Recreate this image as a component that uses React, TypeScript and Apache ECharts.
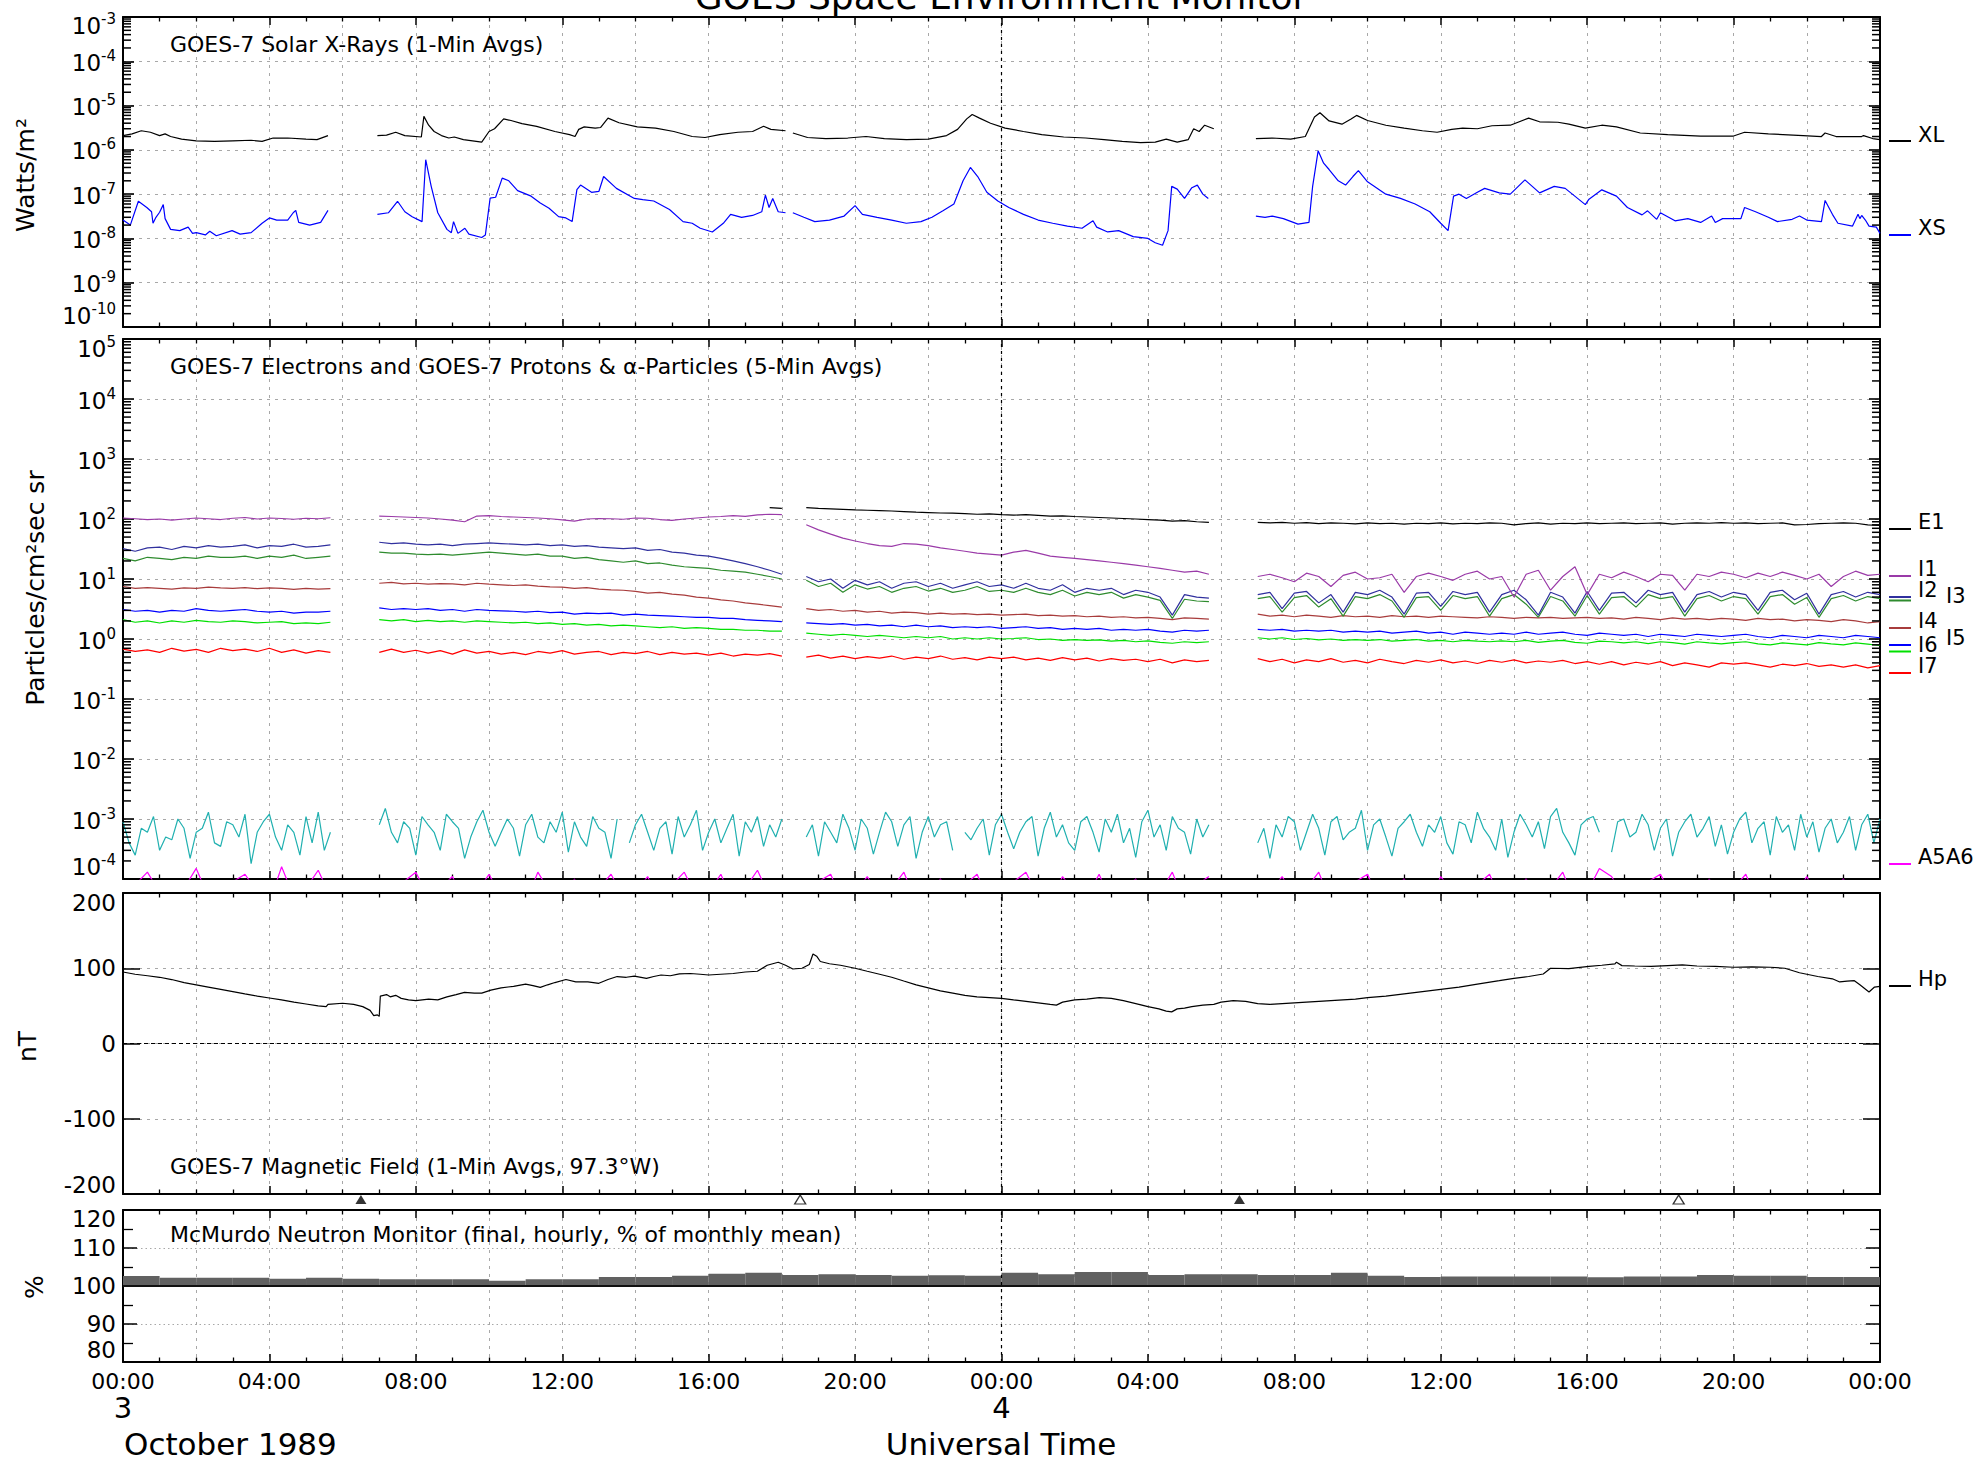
import React, { useEffect, useRef } from 'react';
import * as echarts from 'echarts';

const FONT = 'DejaVu Sans';

// ---------------- X-rays (hour, W/m^2) ----------------
const XL: [number, number | null][] = [
  [0, 2.1e-6], [0.25, 2.3e-6], [0.5, 2.7e-6], [0.75, 2.5e-6], [1.0, 2.1e-6], [1.15, 2.3e-6], [1.3, 2.0e-6], [1.6, 1.75e-6],
  [2.0, 1.6e-6], [2.5, 1.55e-6], [3.0, 1.6e-6], [3.5, 1.65e-6], [3.8, 1.55e-6], [4.1, 1.85e-6], [4.5, 1.85e-6], [5.0, 1.75e-6],
  [5.3, 1.7e-6], [5.6, 2.1e-6], [5.9, null],
  [6.95, 2.1e-6], [7.2, 2.15e-6], [7.45, 2.5e-6], [7.7, 2.1e-6], [8.15, 1.95e-6], [8.22, 5.7e-6], [8.35, 3.6e-6], [8.5, 2.6e-6],
  [8.7, 2.1e-6], [8.9, 1.85e-6], [9.05, 1.95e-6], [9.3, 1.7e-6], [9.8, 1.5e-6], [10.0, 2.6e-6], [10.15, 3.0e-6], [10.4, 5.0e-6],
  [10.6, 4.6e-6], [10.9, 3.9e-6], [11.3, 3.4e-6], [11.8, 2.6e-6], [12.2, 2.2e-6], [12.35, 2.0e-6], [12.45, 2.9e-6], [12.6, 3.3e-6],
  [12.9, 3.1e-6], [13.05, 3.2e-6], [13.25, 5.2e-6], [13.55, 4.1e-6], [14.05, 3.3e-6], [14.55, 3.1e-6], [15.05, 2.6e-6], [15.55, 2.0e-6],
  [15.9, 1.9e-6], [16.3, 2.2e-6], [16.8, 2.5e-6], [17.2, 2.6e-6], [17.5, 3.4e-6], [17.7, 2.9e-6], [18.1, 2.7e-6], [18.2, null],
  [18.3, 2.4e-6], [18.7, 1.9e-6], [19.2, 1.8e-6], [19.8, 1.85e-6], [20.3, 2.0e-6], [20.8, 1.8e-6], [21.4, 1.7e-6], [22.0, 1.75e-6],
  [22.5, 2.1e-6], [22.8, 2.9e-6], [23.05, 5.0e-6], [23.2, 6.3e-6], [23.4, 5.2e-6], [23.7, 4.0e-6], [24.1, 3.1e-6], [24.6, 2.6e-6],
  [25.1, 2.2e-6], [25.7, 1.95e-6], [26.3, 1.85e-6], [26.8, 1.7e-6], [27.3, 1.55e-6], [27.8, 1.45e-6], [28.2, 1.5e-6], [28.5, 1.75e-6],
  [28.8, 1.5e-6], [29.1, 1.7e-6], [29.25, 3.0e-6], [29.4, 2.6e-6], [29.55, 3.6e-6], [29.8, 3.0e-6], [30.3, null],
  [30.95, 1.8e-6], [31.4, 1.85e-6], [31.9, 1.75e-6], [32.3, 2.0e-6], [32.55, 5.5e-6], [32.7, 6.9e-6], [32.95, 4.5e-6], [33.3, 3.8e-6],
  [33.55, 5.0e-6], [33.7, 6.0e-6], [34.0, 4.6e-6], [34.5, 3.6e-6], [35.0, 3.1e-6], [35.5, 2.7e-6], [35.9, 2.5e-6], [36.3, 2.9e-6],
  [36.6, 3.1e-6], [37.0, 3.0e-6], [37.4, 3.5e-6], [37.9, 3.6e-6], [38.4, 5.2e-6], [38.7, 4.3e-6], [39.2, 4.2e-6], [39.5, 3.8e-6],
  [39.95, 3.1e-6], [40.4, 3.6e-6], [40.8, 3.3e-6], [41.45, 2.4e-6], [42.2, 2.2e-6], [43.1, 2.05e-6], [44.0, 2.05e-6], [44.3, 2.5e-6],
  [44.95, 2.3e-6], [45.9, 2.1e-6], [46.4, 2.0e-6], [46.5, 2.4e-6], [46.8, 2.0e-6], [47.5, 2.0e-6], [47.55, 2.1e-6], [47.8, 1.8e-6],
  [48, 1.7e-6],
];

const XS: [number, number | null][] = [
  [0, 2.6e-8], [0.2, 2.0e-8], [0.42, 6.9e-8], [0.65, 5e-8], [0.78, 4e-8], [0.82, 2.2e-8], [0.9, 3e-8], [1.0, 3.9e-8], [1.1, 5.8e-8],
  [1.15, 2.8e-8], [1.3, 1.6e-8], [1.55, 1.5e-8], [1.78, 1.8e-8], [1.9, 1.3e-8], [2.0, 1.35e-8], [2.25, 1.2e-8], [2.37, 1.45e-8],
  [2.55, 1.15e-8], [2.98, 1.5e-8], [3.2, 1.25e-8], [3.5, 1.35e-8], [3.8, 2.2e-8], [4.0, 2.9e-8], [4.2, 2.6e-8], [4.5, 2.6e-8],
  [4.65, 3.8e-8], [4.72, 4.3e-8], [4.8, 2.3e-8], [5.1, 2.0e-8], [5.4, 2.3e-8], [5.6, 4.3e-8], [5.9, null],
  [6.95, 3.5e-8], [7.25, 3.8e-8], [7.5, 6.9e-8], [7.7, 4e-8], [7.9, 3.1e-8], [8.17, 2.4e-8], [8.27, 6e-7], [8.42, 1.5e-7], [8.6, 3.8e-8],
  [8.85, 1.6e-8], [8.97, 1.35e-8], [9.03, 2.4e-8], [9.15, 1.3e-8], [9.34, 1.7e-8], [9.45, 1.25e-8], [9.8, 1.05e-8], [9.9, 1.2e-8],
  [10.03, 8.1e-8], [10.18, 8.5e-8], [10.36, 2.3e-7], [10.54, 2e-7], [10.78, 1.2e-7], [11.15, 9e-8], [11.4, 6.3e-8], [11.64, 4.8e-8],
  [11.9, 3.1e-8], [12.1, 2.9e-8], [12.27, 2.4e-8], [12.4, 1.26e-7], [12.5, 1.6e-7], [12.8, 1.1e-7], [13.0, 1.15e-7], [13.13, 2.5e-7],
  [13.48, 1.35e-7], [13.97, 8e-8], [14.2, 7.5e-8], [14.5, 7e-8], [14.93, 4.5e-8], [15.3, 2.4e-8], [15.55, 2.2e-8], [15.77, 1.7e-8],
  [16.1, 1.4e-8], [16.4, 2.2e-8], [16.6, 3.5e-8], [16.9, 3.0e-8], [17.2, 3.3e-8], [17.45, 4.0e-8], [17.55, 9.5e-8], [17.65, 5e-8],
  [17.75, 8e-8], [17.9, 4e-8], [18.1, 3.8e-8], [18.2, null],
  [18.3, 3.8e-8], [18.6, 3.0e-8], [18.9, 2.4e-8], [19.3, 2.6e-8], [19.7, 3.2e-8], [20.0, 5.5e-8], [20.2, 3.5e-8], [20.6, 3.0e-8],
  [21.0, 2.6e-8], [21.4, 2.2e-8], [21.8, 2.4e-8], [22.1, 3.0e-8], [22.4, 4.2e-8], [22.7, 6e-8], [22.95, 2.0e-7], [23.15, 4.0e-7],
  [23.35, 2.5e-7], [23.6, 1.1e-7], [23.9, 7e-8], [24.2, 5e-8], [24.6, 3.5e-8], [25.0, 2.6e-8], [25.4, 2.2e-8], [25.8, 1.9e-8],
  [26.2, 1.7e-8], [26.5, 2.5e-8], [26.6, 1.8e-8], [26.9, 1.4e-8], [27.2, 1.5e-8], [27.6, 1.1e-8], [28.0, 1.0e-8], [28.2, 8e-9],
  [28.4, 7e-9], [28.55, 1.5e-8], [28.65, 1.5e-7], [28.8, 1.3e-7], [29.0, 8e-8], [29.2, 1.4e-7], [29.35, 1.6e-7], [29.5, 1.0e-7],
  [29.65, 8e-8], [30.3, null],
  [30.95, 3.2e-8], [31.2, 3.0e-8], [31.4, 3.2e-8], [31.7, 2.8e-8], [32.1, 2.1e-8], [32.4, 2.3e-8], [32.5, 1.5e-7], [32.65, 9.5e-7],
  [32.8, 5e-7], [32.95, 3.6e-7], [33.2, 2.0e-7], [33.4, 1.6e-7], [33.6, 2.5e-7], [33.75, 3.4e-7], [34.0, 1.9e-7], [34.5, 1.0e-7],
  [34.9, 8e-8], [35.3, 6e-8], [35.7, 4e-8], [36.0, 2.2e-8], [36.2, 1.5e-8], [36.35, 9e-8], [36.5, 1.0e-7], [36.7, 8e-8],
  [37.0, 1.1e-7], [37.2, 1.35e-7], [37.6, 1.07e-7], [37.9, 1.0e-7], [38.3, 2.1e-7], [38.7, 1.07e-7], [39.1, 1.5e-7], [39.4, 1.35e-7],
  [39.95, 5.8e-8], [40.05, 7.7e-8], [40.4, 1.25e-7], [40.8, 9e-8], [41.1, 5e-8], [41.5, 3.4e-8], [41.65, 4.2e-8], [41.9, 2.7e-8],
  [42.0, 3.8e-8], [42.4, 2.5e-8], [42.75, 2.8e-8], [43.1, 2.3e-8], [43.4, 3.2e-8], [43.5, 2.3e-8], [43.7, 2.8e-8], [44.2, 2.8e-8],
  [44.3, 5e-8], [44.6, 4e-8], [44.95, 3e-8], [45.2, 2.4e-8], [45.6, 2.7e-8], [45.8, 3.2e-8], [46.0, 2.6e-8], [46.4, 2.4e-8],
  [46.5, 7.2e-8], [46.7, 3.5e-8], [46.85, 2.2e-8], [47.25, 1.9e-8], [47.4, 3.5e-8], [47.45, 2.8e-8], [47.5, 3.3e-8], [47.6, 2.6e-8],
  [47.7, 1.9e-8], [47.9, 1.8e-8], [48, 1.3e-8],
];

const FLARE_LEVELS = [1e-4, 1e-5, 1e-6];
const FLARE_NAMES = ['X Flare', 'M Flare', 'C Flare'];

// ---------------- Particles ----------------
// Proton/electron channels: sampled every 20 min (index i -> hour i/3), four data segments
// separated by data gaps of 3, 1 and 3 samples.
const SAMPLE_HOURS = 1 / 3;
const GAP_LENGTHS = [3, 1, 3];
// Alpha channel A5: sampled every 10 min, gaps of 7, 3 and 7 samples.
const A5_SAMPLE_HOURS = 1 / 6;
const A5_GAP_LENGTHS = [7, 3, 7];

const E1_SEGS = [
  Array(18).fill(null),
  [...Array(32).fill(null), 155, 150],
  [155, 150, 148, 145, 142, 140, 138, 136, 133, 130, 128, 126, 125, 123, 120, 122, 118, 116, 118, 115,
    112, 113, 110, 108, 106, 104, 102, 100, 98, 96, 92, 94, 90, 88],
  [88, 86, 88, 85, 87, 84, 86, 85, 83, 86, 84, 85, 82, 85, 84, 86, 83, 85, 84, 86,
    85, 80, 84, 86, 82, 85, 84, 86, 84, 85, 86, 84, 85, 86, 82, 85, 86, 85, 87, 85,
    86, 84, 85, 86, 80, 81, 84, 85, 86, 85, 80, 78],
];
const I1_SEGS = [
  [104, 101, 98, 100, 96, 100, 104, 101, 98, 103, 106, 100, 104, 102, 99, 103, 101, 105],
  [112, 110, 108, 106, 104, 100, 96, 90, 112, 114, 110, 108, 106, 104, 101, 97, 92, 100, 102, 101,
    99, 104, 103, 98, 95, 100, 104, 108, 110, 114, 111, 117, 120, 118],
  [80, 66, 56, 48, 43, 39, 36, 35, 39, 38, 36, 33, 31, 29, 27, 26, 25, 28, 30, 27,
    24, 23, 22, 21, 20, 19, 18, 17, 16, 15, 14, 13, 13.5, 12],
  [11, 12, 10.5, 9, 12.5, 11, 7.5, 11.5, 13, 10, 10.5, 12, 6, 11, 12.5, 11, 9.5, 12, 13.5, 10,
    11, 5, 12, 14, 6.5, 11, 16, 5.5, 12, 10.5, 13, 11, 9, 12, 11.5, 6.5, 12, 11, 13, 12,
    10.5, 12.5, 11, 13, 11.5, 10, 12, 7.5, 11, 13.5, 11.5, 12],
];
const I2_SEGS = [
  [32, 29, 33, 34, 31, 35, 33, 36, 34, 35, 37, 33, 36, 35, 38, 34, 35, 37],
  [41, 39, 40, 38, 37, 38, 36, 38, 39, 40, 39, 38, 37, 38, 36, 37, 35, 36, 34, 33,
    32, 33, 30, 31, 28, 27, 25, 24, 22, 20, 18, 16, 14, 12],
  [11, 9, 10, 7, 9.5, 8, 9, 7, 8.5, 9, 7.5, 8.5, 7, 8, 9, 7.5, 8, 7, 8.5, 7,
    6.5, 8, 6, 7, 6.5, 7, 5.5, 6.5, 6, 5, 2.5, 5.5, 5, 4.8],
  [5.5, 6, 3.2, 5.8, 6.2, 4, 5.5, 2.8, 6, 5.5, 6.5, 5, 2.6, 5.8, 6, 3.5, 6.2, 5.5, 6, 2.8,
    5.5, 6.5, 4.5, 2.5, 6, 5, 2.7, 6.2, 3, 5.8, 6, 4, 6.5, 5.5, 6, 2.8, 5.5, 6.2, 5, 6,
    5.5, 3, 6, 6.5, 4.5, 5.8, 2.6, 5.5, 6.2, 5, 6, 5.5],
];
const I3_SEGS = [
  [22, 20, 23, 22, 21, 23, 22, 24, 23, 23, 24, 22, 24, 23, 25, 22, 23, 24],
  [28, 27, 27, 26, 25.5, 26, 25, 26, 27, 28, 27, 26, 25, 26, 24, 24, 22, 23, 21, 20,
    19, 20, 18, 18.5, 17, 16, 15.5, 15, 14, 13.5, 13, 12, 11, 10],
  [9.5, 7.5, 8.5, 6, 8, 6.8, 7.5, 6, 7, 7.5, 6.3, 7, 6, 6.5, 7.5, 6.2, 6.5, 6, 7, 6,
    5.5, 6.5, 5.2, 6, 5.5, 6, 4.8, 5.5, 5, 4.4, 2.2, 4.6, 4.3, 4.2],
  [4.7, 5.1, 2.8, 4.9, 5.3, 3.4, 4.7, 2.4, 5.1, 4.7, 5.5, 4.3, 2.3, 4.9, 5.1, 3, 5.3, 4.7, 5.1, 2.4,
    4.7, 5.5, 3.8, 2.3, 5.1, 4.3, 2.4, 5.3, 2.6, 4.9, 5.1, 3.4, 5.5, 4.7, 5.1, 2.4, 4.7, 5.3, 4.3, 5.1,
    4.7, 2.6, 5.1, 5.5, 3.8, 4.9, 2.3, 4.7, 5.3, 4.3, 5.1, 4.7],
];
const I4_SEGS = [
  [7.5, 7.0, 7.2, 7.0, 6.8, 7.1, 7.0, 7.3, 7.1, 7.0, 7.2, 6.9, 7.1, 7.0, 6.7, 7.0, 6.8, 6.9],
  [8.5, 8.8, 8.3, 8.5, 8.2, 8.4, 8.3, 8.0, 8.5, 8.2, 8.0, 7.8, 8.0, 7.6, 7.4, 7.3, 7.0, 7.2, 6.8, 6.6,
    6.5, 6.2, 5.8, 6.0, 5.6, 5.4, 5.0, 4.8, 4.5, 4.3, 4.0, 3.8, 3.6, 3.4],
  [3.2, 3.0, 3.1, 2.9, 3.0, 2.8, 2.9, 2.7, 2.8, 2.75, 2.6, 2.7, 2.6, 2.65, 2.55, 2.6, 2.5, 2.55, 2.6, 2.45,
    2.5, 2.4, 2.45, 2.35, 2.4, 2.3, 2.35, 2.25, 2.3, 2.2, 2.1, 2.25, 2.2, 2.15],
  [2.6, 2.4, 2.5, 2.35, 2.5, 2.4, 2.3, 2.45, 2.35, 2.4, 2.3, 2.45, 2.35, 2.4, 2.3, 2.4, 2.35, 2.3, 2.25, 2.35,
    2.3, 2.2, 2.3, 2.25, 2.3, 2.2, 2.25, 2.3, 2.2, 2.25, 2.15, 2.3, 2.2, 2.1, 2.25, 2.15, 2.2, 2.1, 2.2, 2.15,
    2.05, 2.2, 2.1, 2.15, 2.0, 2.1, 2.05, 1.95, 2.1, 2.0, 1.85, 1.95],
];
const I5_SEGS = [
  [2.1, 1.9, 2.0, 1.85, 2.0, 1.9, 2.05, 1.95, 1.9, 2.0, 1.95, 1.85, 1.9, 1.95, 1.8, 1.85, 1.8, 1.9],
  [2.1, 2.0, 2.1, 1.95, 2.05, 1.95, 2.0, 1.9, 2.0, 1.95, 1.9, 1.85, 1.9, 1.8, 1.85, 1.75, 1.8, 1.7, 1.75, 1.65,
    1.7, 1.65, 1.6, 1.55, 1.6, 1.5, 1.55, 1.5, 1.45, 1.45, 1.4, 1.4, 1.35, 1.35],
  [1.25, 1.2, 1.15, 1.2, 1.15, 1.1, 1.15, 1.1, 1.05, 1.1, 1.05, 1.1, 1.0, 1.05, 1.0, 1.05, 1.0, 1.02, 1.05, 0.98,
    1.0, 0.95, 0.98, 0.95, 0.97, 0.92, 0.95, 0.9, 0.93, 0.88, 0.85, 0.9, 0.87, 0.9],
  [1.05, 1.0, 1.05, 0.98, 1.02, 0.97, 1.0, 0.95, 0.98, 0.95, 0.98, 0.92, 0.95, 0.98, 0.92, 0.95, 0.9, 0.95, 0.92, 0.9,
    0.93, 0.9, 0.95, 0.88, 0.92, 0.95, 0.88, 0.85, 0.92, 0.9, 0.86, 0.9, 0.84, 0.9, 0.87, 0.82, 0.9, 0.86, 0.83, 0.87,
    0.9, 0.83, 0.8, 0.86, 0.83, 0.8, 0.87, 0.83, 0.8, 0.86, 0.82, 0.78],
];
const I6_SEGS = [
  [3.1, 2.9, 3.0, 2.8, 3.0, 2.9, 3.2, 3.0, 2.9, 3.0, 3.1, 2.9, 2.8, 2.9, 2.7, 2.8, 2.8, 2.9],
  [3.3, 3.1, 3.2, 3.1, 3.2, 3.0, 3.1, 2.9, 3.1, 3.0, 2.95, 2.9, 2.8, 2.9, 2.75, 2.8, 2.6, 2.7, 2.65, 2.7,
    2.5, 2.6, 2.5, 2.45, 2.4, 2.35, 2.3, 2.3, 2.2, 2.2, 2.1, 2.05, 2.0, 1.95],
  [1.85, 1.8, 1.75, 1.8, 1.7, 1.75, 1.65, 1.7, 1.6, 1.7, 1.6, 1.65, 1.55, 1.6, 1.55, 1.6, 1.5, 1.55, 1.6, 1.5,
    1.55, 1.45, 1.5, 1.45, 1.5, 1.4, 1.45, 1.4, 1.45, 1.35, 1.3, 1.4, 1.35, 1.4],
  [1.45, 1.4, 1.45, 1.35, 1.4, 1.35, 1.4, 1.3, 1.35, 1.3, 1.35, 1.25, 1.3, 1.35, 1.25, 1.3, 1.2, 1.3, 1.25, 1.2,
    1.25, 1.2, 1.3, 1.2, 1.25, 1.3, 1.2, 1.15, 1.25, 1.2, 1.15, 1.2, 1.1, 1.2, 1.15, 1.1, 1.2, 1.15, 1.1, 1.15,
    1.2, 1.1, 1.05, 1.15, 1.1, 1.05, 1.15, 1.1, 1.05, 1.15, 1.1, 1.05],
];
const I7_SEGS = [
  [0.68, 0.62, 0.66, 0.6, 0.7, 0.63, 0.67, 0.6, 0.7, 0.64, 0.68, 0.62, 0.7, 0.6, 0.66, 0.58, 0.64, 0.6],
  [0.6, 0.68, 0.6, 0.65, 0.58, 0.64, 0.56, 0.66, 0.58, 0.62, 0.56, 0.6, 0.55, 0.62, 0.58, 0.64, 0.56, 0.6, 0.62, 0.55,
    0.6, 0.57, 0.62, 0.55, 0.6, 0.56, 0.58, 0.54, 0.58, 0.52, 0.56, 0.54, 0.57, 0.52],
  [0.5, 0.54, 0.48, 0.52, 0.47, 0.51, 0.48, 0.52, 0.46, 0.5, 0.47, 0.52, 0.46, 0.49, 0.45, 0.5, 0.47, 0.5, 0.45, 0.48,
    0.44, 0.49, 0.45, 0.48, 0.43, 0.47, 0.44, 0.46, 0.42, 0.46, 0.4, 0.45, 0.42, 0.44],
  [0.47, 0.42, 0.46, 0.4, 0.45, 0.42, 0.47, 0.41, 0.44, 0.4, 0.46, 0.42, 0.39, 0.44, 0.41, 0.45, 0.4, 0.43, 0.39, 0.44,
    0.41, 0.45, 0.4, 0.43, 0.41, 0.44, 0.39, 0.42, 0.38, 0.42, 0.37, 0.41, 0.38, 0.42, 0.36, 0.4, 0.37, 0.34, 0.4, 0.38,
    0.4, 0.37, 0.34, 0.38, 0.36, 0.39, 0.35, 0.37, 0.34, 0.37, 0.33, 0.36],
];
// alpha channels in units of 1e-4 particles/cm2 sec sr
const A5_SEGS_E4 = [
  [9, 4, 2.5, 7, 6, 11, 3, 5, 4.5, 10, 7, 2.2, 6, 7, 13, 4, 3.5, 9, 8, 5,
    12, 1.8, 6, 9, 12, 5, 3, 8, 6, 2.5, 11, 4, 13, 3, 6],
  [8, 15, 6, 4, 9, 7, 2.5, 11, 8, 6, 3, 12, 9, 7, 2.2, 5, 9, 14, 6, 3.5,
    6, 10, 7, 2.4, 8, 12, 5, 4, 9, 6, 13, 2.8, 9, 5, 3.5, 11, 7, 6, 2.2, 10,
    null, 4, 8, 12, 6, 3, 7, 9, 2.6, 11, 5, 8, 14, 3, 6, 10, 4, 7, 12, 2.4,
    9, 6, 11, 3.5, 8, 5, 10],
  [5, 8, 2.4, 9, 6, 4, 12, 7, 3, 10, 7, 2.6, 6, 13, 9, 3.5, 8, 11, 2.2, 6,
    11, 5, 8, 9, 3, null, 6, 4.5, 7, 10, 2.5, 8, 12, 6, 3.2, 6, 9, 11, 2.4, 7,
    13, 5, 8, 4, 3, 9, 11, 6, 2.8, 10, 6, 12, 4, 7, 2.3, 9, 14, 5, 8, 3,
    11, 7, 6, 2.6, 10, 5, 8],
  [4, 7, 2.2, 8, 5, 11, 9, 3, 6, 12, 7, 2.5, 9, 11, 4.5, 6, 7, 14, 3, 8,
    10, 5, 2.4, 7, 9, 12, 6, 3.5, 8, 6, 11, 4, 2.6, 9, 8, 4, 13, 7, 5, 3,
    10, 2.3, 6, 12, 8, 5, 9, 3.2, 11, 15, 6, 4, 2.5, 8, 10, 11, 6, null, 2.8, 9,
    10, 5, 6, 12, 8, 3, 7, 10, 2.4, 6, 9, 12, 5, 7, 11, 3.5, 8, 2.6, 6, 10,
    13, 4, 7, 9, 2.5, 11, 6, 8, 3, 12, 5, 9, 2.8, 7, 10, 4, 6, 11, 3, 8,
    12, 4, 10],
];
const A6_SEGS_E4 = [
  [0.5, 0.8, 1.3, 0.6, 0.4, 0.7, 1.5, 0.5, 0.3, 0.9, 1.2, 0.6, 0.4, 1.6, 0.5, 0.7, 1.4, 0.5],
  [0.6, 0.4, 0.9, 1.3, 0.5, 0.7, 1.1, 0.4, 0.6, 1.2, 0.5, 0.8, 0.4, 1.3, 0.6, 0.5, 1.0, 0.4, 0.7, 1.2,
    0.5, 0.6, 1.1, 0.4, 0.8, 1.3, 0.5, 0.6, 1.2, 0.4, 0.7, 1.4, 0.5, 0.6],
  [0.5, 0.9, 1.2, 0.4, 0.6, 1.1, 0.5, 0.7, 1.3, 0.4, 0.6, 1.0, 0.5, 0.8, 1.2, 0.4, 0.6, 0.9, 1.3, 0.5,
    0.4, 1.1, 0.6, 0.5, 1.2, 0.4, 0.7, 1.0, 0.5, 0.6, 1.3, 0.4, 0.8, 1.1],
  [0.4, 0.6, 1.1, 0.5, 0.7, 1.3, 0.4, 0.5, 0.9, 1.2, 0.4, 0.6, 1.0, 0.5, 0.4, 1.1, 0.6, 0.5, 0.8, 1.2,
    0.4, 0.6, 1.0, 0.5, 0.7, 1.3, 0.4, 0.6, 1.5, 1.1, 0.5, 0.4, 0.9, 1.2, 0.5, 0.6, 0.4, 1.0, 0.5, 0.7,
    1.2, 0.4, 0.6, 0.9, 0.5, 1.1, 0.4, 0.6, 1.0, 0.5, 0.4, 0.8],
];

// ---------------- Magnetic field Hp (hour, nT) ----------------
const HP: [number, number][] = [
  [0, 95], [0.33, 92], [0.67, 90], [1.0, 88], [1.33, 85], [1.67, 81], [2.0, 78], [2.33, 75], [2.67, 72], [3.0, 69],
  [3.33, 66], [3.67, 63], [4.0, 60.5], [4.33, 58], [4.67, 55], [5.0, 52.5], [5.33, 50], [5.55, 49], [5.6, 52], [6.0, 53.5],
  [6.3, 52], [6.55, 49], [6.75, 44], [6.85, 37], [6.95, 38], [7.0, 36], [7.03, 63], [7.2, 65], [7.3, 62], [7.45, 64],
  [7.6, 60], [7.8, 58], [8.0, 57], [8.35, 59], [8.6, 58], [8.85, 62], [9.1, 65], [9.33, 68], [9.6, 67], [9.8, 67],
  [10.05, 71], [10.33, 74], [10.67, 76], [11.0, 79], [11.2, 77], [11.4, 74.5], [11.6, 78], [11.8, 81], [12.1, 85], [12.37, 82],
  [12.7, 82], [13.0, 80], [13.25, 85], [13.5, 89], [13.75, 88], [13.97, 89.6], [14.3, 86.6], [14.5, 89], [14.7, 91], [14.95, 90],
  [15.2, 92.6], [15.5, 93], [15.77, 92], [16.0, 91], [16.33, 92], [16.67, 93], [17.0, 95], [17.33, 96], [17.6, 104], [17.9, 108],
  [18.1, 104], [18.3, 99], [18.55, 100], [18.75, 105], [18.85, 119], [18.95, 116], [19.05, 109], [19.3, 106], [19.6, 104], [20.0, 100],
  [20.33, 96], [20.67, 92], [21.0, 88], [21.33, 83], [21.67, 78], [22.0, 74], [22.33, 70], [22.67, 67], [23.0, 64], [23.33, 62],
  [23.67, 61], [24.0, 60], [24.33, 58], [24.67, 56], [25.0, 54], [25.33, 52], [25.5, 51], [25.67, 55], [26.0, 58], [26.33, 59],
  [26.67, 61], [27.0, 60], [27.33, 57], [27.67, 53], [28.0, 49], [28.3, 46], [28.5, 43], [28.65, 42], [28.8, 46], [29.0, 47],
  [29.2, 49], [29.5, 51], [29.8, 52], [30.0, 55], [30.33, 57], [30.67, 56], [31.0, 53], [31.33, 52], [31.67, 53], [32.0, 54],
  [32.33, 55], [32.67, 56], [33.0, 57], [33.33, 58], [33.67, 59], [34.0, 61], [34.5, 63], [35.0, 66], [35.5, 69], [36.0, 72],
  [36.5, 75], [37.0, 79], [37.6, 83.5], [38.0, 86.6], [38.4, 89], [38.8, 92.4], [39.0, 100], [39.5, 99.5], [40.05, 102.6], [40.4, 104],
  [40.76, 105.7], [40.8, 108], [40.95, 103.5], [41.3, 103], [41.75, 102.6], [42.2, 103.5], [42.6, 104.4], [43.0, 103], [43.5, 102.6], [44.0, 101.3],
  [44.5, 101.8], [45.0, 101.3], [45.4, 100], [45.8, 94], [46.3, 89], [46.7, 86], [46.9, 81.8], [47.1, 83], [47.3, 83.5], [47.45, 78],
  [47.7, 68.5], [47.85, 75], [48, 76],
];

// ---------------- McMurdo neutron monitor, hourly % of monthly mean ----------------
const NEUTRON = [
  102.6, 102.2, 102.2, 102.2, 101.9, 102.2, 101.9, 101.8, 101.8, 101.8, 101.4, 101.8,
  101.8, 102.4, 102.4, 102.7, 103.2, 103.5, 102.9, 103.1, 102.9, 102.7, 102.8, 102.7,
  103.5, 103.1, 103.7, 103.7, 102.9, 103.1, 103.1, 102.9, 102.9, 103.5, 102.7, 102.4,
  102.5, 102.5, 102.5, 102.5, 102.3, 102.5, 102.5, 102.9, 102.7, 102.7, 102.4, 102.4,
];
const NEUTRON_BASE = 100;

// local midnight (filled) and local noon (open) of GOES-7, hours UT
const LOCAL_MIDNIGHT = [6.5, 30.5];
const LOCAL_NOON = [18.5, 42.5];
const DAY_AT_HOUR: Record<number, string> = { 0: '3', 24: '4' };
const DAY_BOUNDARY = 24;

// ---------------- helpers ----------------
function joinSegs(segs: (number | null)[][], scale = 1, step = SAMPLE_HOURS, gaps = GAP_LENGTHS) {
  const out: [number, number | null][] = [];
  segs.forEach((seg, k) => {
    seg.forEach((v) => out.push([out.length * step, v == null ? null : v * scale]));
    if (k < gaps.length) for (let g = 0; g < gaps[k]; g++) out.push([out.length * step, null]);
  });
  return out;
}

const GRIDS = [
  { top: 17, height: 310 },
  { top: 339, height: 540 },
  { top: 893, height: 301 },
  { top: 1210, height: 152 },
];
const LEFT = 123;
const RIGHT = 94;
const BLACK = '#000';

function xAxesFor(g: number, showLabels: boolean) {
  const base = { type: 'value', gridIndex: g, min: 0, max: 48, interval: 4 };
  const line = { show: true, onZero: false, lineStyle: { color: BLACK, width: 2 } };
  const tick = { show: true, inside: true, length: 8, lineStyle: { color: BLACK, width: 1.5 } };
  const minor = { show: true, splitNumber: 4, length: 4.5, lineStyle: { color: BLACK, width: 1.3 } };
  return [
    {
      ...base, position: 'bottom', axisLine: line, axisTick: tick, minorTick: minor, splitLine: { show: false },
      axisLabel: {
        show: showLabels, margin: 8, showMinLabel: true, showMaxLabel: true, color: BLACK, fontFamily: FONT,
        formatter: (v: number) => {
          const h = Math.round(v);
          const s = String(h % 24).padStart(2, '0') + ':00';
          const d = DAY_AT_HOUR[h];
          return d ? `{t|${s}}\n{d|${d}}` : `{t|${s}}`;
        },
        rich: {
          t: { fontSize: 22, lineHeight: 23, fontFamily: FONT, color: BLACK },
          d: { fontSize: 29, lineHeight: 29, fontFamily: FONT, color: BLACK },
        },
      },
    },
    {
      ...base, position: 'top', axisLine: line, axisTick: tick, minorTick: minor, splitLine: { show: false },
      axisLabel: { show: false },
    },
    {
      type: 'value', gridIndex: g, min: 0, max: 48, interval: 2, position: 'bottom',
      axisLine: { show: false, onZero: false }, axisTick: { show: false }, axisLabel: { show: false },
      splitLine: { show: true, lineStyle: { color: '#a8a8a8', width: 1, type: [3, 5] } },
    },
  ];
}

function logAxes(g: number, min: number, max: number, padTop: number, padBottom: number) {
  const eMin = Math.round(Math.log10(min));
  const eMax = Math.round(Math.log10(max));
  const common = {
    type: 'log', logBase: 10, gridIndex: g, min, max, splitNumber: eMax - eMin,
    axisLine: { show: true, onZero: false, lineStyle: { color: BLACK, width: 2 } },
    axisTick: { show: true, inside: true, length: 11, lineStyle: { color: BLACK, width: 1.6 } },
    minorTick: { show: false },
  };
  return [
    {
      ...common, position: 'left',
      splitLine: { show: true, lineStyle: { color: '#a8a8a8', width: 1, type: [3, 5] } },
      axisLabel: {
        show: true, margin: 7, showMinLabel: true, showMaxLabel: true, color: BLACK, fontFamily: FONT,
        formatter: (v: number) => {
          const e = Math.round(Math.log10(v));
          const core = `{b|10}{s|${e}}`;
          if (e === eMax) return `{pt| }\n${core}`;
          if (e === eMin) return `${core}\n{pb| }`;
          return core;
        },
        rich: {
          b: { fontSize: 23, lineHeight: 26, verticalAlign: 'bottom', fontFamily: FONT, color: BLACK },
          s: { fontSize: 15, verticalAlign: 'top', fontFamily: FONT, color: BLACK },
          pt: { fontSize: 6, lineHeight: padTop },
          pb: { fontSize: 6, lineHeight: padBottom },
        },
      },
    },
    { ...common, position: 'right', splitLine: { show: false }, axisLabel: { show: false } },
  ];
}

// minor log ticks (2..9 x 10^n) on both sides of a log panel, placed by the panel's own scales
function logMinorTickSeries(xi: number, yi: number, min: number, max: number) {
  const eMin = Math.round(Math.log10(min));
  const eMax = Math.round(Math.log10(max));
  const vals: number[][] = [];
  for (let e = eMin; e < eMax; e++) for (let k = 2; k <= 9; k++) vals.push([0, k * Math.pow(10, e)]);
  return {
    type: 'custom', xAxisIndex: xi, yAxisIndex: yi, silent: true, clip: false, z: 5,
    data: vals, encode: { x: 0, y: 1 },
    renderItem: (params: any, api: any) => {
      const v = api.value(1);
      const l = api.coord([0, v]);
      const r = api.coord([48, v]);
      const st = { stroke: BLACK, lineWidth: 1.5 };
      return {
        type: 'group',
        children: [
          { type: 'line', shape: { x1: l[0], y1: l[1], x2: l[0] + 8, y2: l[1] }, style: st },
          { type: 'line', shape: { x1: r[0] - 8, y1: r[1], x2: r[0], y2: r[1] }, style: st },
        ],
      };
    },
  };
}

function linAxes(g: number, min: number, max: number, interval: number, tickLen: number, minorSplit: number,
  padTop: number, padBottom: number, splitStyle: any) {
  const common: any = {
    type: 'value', gridIndex: g, min, max, interval,
    axisLine: { show: true, onZero: false, lineStyle: { color: BLACK, width: 2 } },
    axisTick: { show: true, inside: true, length: tickLen, lineStyle: { color: BLACK, width: 1.5 } },
    minorTick: { show: minorSplit > 1, splitNumber: minorSplit, length: tickLen - 4, lineStyle: { color: BLACK, width: 1.3 } },
  };
  return [
    {
      ...common, position: 'left', splitLine: { show: true, lineStyle: splitStyle },
      axisLabel: {
        show: true, margin: 7, showMinLabel: true, showMaxLabel: true, color: BLACK, fontFamily: FONT,
        formatter: (v: number) => {
          if (v === max) return `{pt| }\n{n|${v}}`;
          if (v === min) return `{n|${v}}\n{pb| }`;
          return `{n|${v}}`;
        },
        rich: {
          n: { fontSize: 23, lineHeight: 23, fontFamily: FONT, color: BLACK },
          pt: { fontSize: 6, lineHeight: padTop },
          pb: { fontSize: 6, lineHeight: padBottom },
        },
      },
    },
    { ...common, position: 'right', splitLine: { show: false }, axisLabel: { show: false } },
  ];
}

const dayLine = {
  xAxis: DAY_BOUNDARY, lineStyle: { color: BLACK, type: [3, 4], width: 1.2 }, label: { show: false },
};

function lineSeries(name: string, data: any[], color: string, xi: number, yi: number, extra: any = {}) {
  return {
    name, type: 'line', data, xAxisIndex: xi, yAxisIndex: yi, showSymbol: false, symbol: 'none',
    connectNulls: false, silent: true, lineStyle: { color, width: 1.2 }, itemStyle: { color }, ...extra,
  };
}

const LEGEND_ITEMS = [
  { label: 'XL', color: '#000000', lineY: 141, tx: 1918, ty: 134.5 },
  { label: 'XS', color: '#0000ff', lineY: 235, tx: 1918, ty: 227.5 },
  { label: 'E1', color: '#000000', lineY: 529, tx: 1918, ty: 522 },
  { label: 'I1', color: '#9a3aa8', lineY: 576, tx: 1918, ty: 569 },
  { label: 'I2', color: '#30309e', lineY: 597, tx: 1918, ty: 590 },
  { label: 'I3', color: '#2e8b2e', lineY: 600.5, tx: 1946, ty: 595.5 },
  { label: 'I4', color: '#a83c3c', lineY: 628, tx: 1918, ty: 620.5 },
  { label: 'I6', color: '#0000ff', lineY: 645, tx: 1918, ty: 644.5 },
  { label: 'I5', color: '#00e000', lineY: 651.5, tx: 1946, ty: 637.5 },
  { label: 'I7', color: '#ff0000', lineY: 673, tx: 1918, ty: 666 },
  { label: 'A5', color: '#20b0b0', lineY: 864, tx: 1918, ty: 857 },
  { label: 'A6', color: '#ff00ff', lineY: 864, tx: 1946, ty: 857 },
  { label: 'Hp', color: '#000000', lineY: 986, tx: 1918, ty: 979 },
];
const COLOR: Record<string, string> = {};
LEGEND_ITEMS.forEach((it) => { COLOR[it.label] = it.color; });

function txt(text: string, x: number, y: number, fontSize: number, extra: any = {}, rotation = 0, align = 'left') {
  return {
    type: 'text', x, y, rotation, silent: true,
    style: {
      text, fontSize, fontFamily: FONT, fill: extra.fill || BLACK,
      align, textAlign: align, verticalAlign: 'middle', textVerticalAlign: 'middle',
    },
  };
}

function buildOption() {
  const xAxis: any[] = [
    ...xAxesFor(0, false), ...xAxesFor(1, false), ...xAxesFor(2, false), ...xAxesFor(3, true),
    { type: 'value', gridIndex: 4, min: 0, max: 48, show: false },
  ];
  const yAxis: any[] = [
    ...logAxes(0, 1e-10, 1e-3, 14, 25),
    ...logAxes(1, 1e-4, 1e5, 17, 28),
    ...linAxes(2, -200, 200, 100, 17, 1, 20, 18, { color: '#a8a8a8', width: 1, type: [3, 5] }),
    ...linAxes(3, 80, 120, 10, 14, 2, 17, 24, { color: '#a8a8a8', width: 1, type: [1.5, 3] }),
    { type: 'value', gridIndex: 4, min: 0, max: 1, show: false },
  ];
  const grid: any[] = GRIDS.map((b) => ({ left: LEFT, right: RIGHT, top: b.top, height: b.height, containLabel: false, outerBoundsMode: 'none' }));
  grid.push({ left: LEFT, right: RIGHT, top: 1193, height: 13, containLabel: false, outerBoundsMode: 'none' });

  const flareLines = FLARE_LEVELS.map((lv, i) => ({
    yAxis: lv,
    lineStyle: { color: BLACK, type: [3, 4], width: 1.2 },
    label: {
      show: true, formatter: FLARE_NAMES[i], position: 'insideEndTop', color: '#8a8a8a',
      fontSize: 14, fontFamily: FONT, distance: [12, 1],
    },
  }));
  const mk = (data: any[]) => ({ silent: true, symbol: ['none', 'none'], animation: false, data });

  const series: any[] = [
    logMinorTickSeries(0, 0, 1e-10, 1e-3),
    logMinorTickSeries(3, 2, 1e-4, 1e5),

    lineSeries('XS', XS, COLOR.XS, 0, 0),
    lineSeries('XL', XL, COLOR.XL, 0, 0, { markLine: mk([...flareLines, dayLine]) }),

    lineSeries('A5', joinSegs(A5_SEGS_E4, 1e-4, A5_SAMPLE_HOURS, A5_GAP_LENGTHS), COLOR.A5, 3, 2),
    lineSeries('A6', joinSegs(A6_SEGS_E4, 1e-4), COLOR.A6, 3, 2),
    lineSeries('I7', joinSegs(I7_SEGS), COLOR.I7, 3, 2),
    lineSeries('I5', joinSegs(I5_SEGS), COLOR.I5, 3, 2),
    lineSeries('I6', joinSegs(I6_SEGS), COLOR.I6, 3, 2),
    lineSeries('I4', joinSegs(I4_SEGS), COLOR.I4, 3, 2),
    lineSeries('I3', joinSegs(I3_SEGS), COLOR.I3, 3, 2),
    lineSeries('I2', joinSegs(I2_SEGS), COLOR.I2, 3, 2),
    lineSeries('I1', joinSegs(I1_SEGS), COLOR.I1, 3, 2),
    lineSeries('E1', joinSegs(E1_SEGS), COLOR.E1, 3, 2, { markLine: mk([dayLine]) }),

    lineSeries('Hp', HP, COLOR.Hp, 6, 4, {
      markLine: mk([
        { yAxis: 0, lineStyle: { color: BLACK, type: [4, 3], width: 1.2 }, label: { show: false } },
        dayLine,
      ]),
    }),

    {
      name: 'Neutron', type: 'custom', xAxisIndex: 9, yAxisIndex: 6, silent: true,
      data: NEUTRON.map((v, i) => [i, v]),
      encode: { x: 0, y: 1 },
      renderItem: (params: any, api: any) => {
        const h = api.value(0);
        const v = api.value(1);
        const a = api.coord([h, NEUTRON_BASE]);
        const b = api.coord([h + 1, v]);
        return {
          type: 'rect',
          shape: { x: a[0], y: b[1], width: b[0] - a[0], height: a[1] - b[1] },
          style: { fill: '#616161' },
        };
      },
    },
    lineSeries('NeutronBase', [[0, NEUTRON_BASE], [48, NEUTRON_BASE]], '#111', 9, 6, {
      lineStyle: { color: '#111', width: 2 },
      markLine: mk([dayLine]),
    }),

    {
      name: 'LocalMidnight', type: 'scatter', xAxisIndex: 12, yAxisIndex: 8, silent: true,
      data: LOCAL_MIDNIGHT.map((h) => [h, 0.5]), symbol: 'triangle', symbolSize: [11, 9],
      itemStyle: { color: BLACK },
    },
    {
      name: 'LocalNoon', type: 'scatter', xAxisIndex: 12, yAxisIndex: 8, silent: true,
      data: LOCAL_NOON.map((h) => [h, 0.5]), symbol: 'triangle', symbolSize: [11, 9],
      itemStyle: { color: '#fff', borderColor: BLACK, borderWidth: 1.3 },
    },
  ];

  const graphic: any[] = [
    txt('GOES Space Environment Monitor', 1001, -4, 36, {}, 0, 'center'),
    txt('GOES-7 Solar X-Rays (1-Min Avgs)', 170, 44.5, 22),
    txt('GOES-7 Electrons and GOES-7 Protons & α-Particles (5-Min Avgs)', 170, 366, 22),
    txt('GOES-7 Magnetic Field (1-Min Avgs, 97.3°W)', 170, 1166, 22),
    txt('McMurdo Neutron Monitor (final, hourly, % of monthly mean)', 170, 1234, 22),
    txt('Watts/m²', 25.5, 175, 25, {}, Math.PI / 2, 'center'),
    txt('Particles/cm²sec sr', 35.5, 588, 25, {}, Math.PI / 2, 'center'),
    txt('nT', 27.5, 1046.5, 25, {}, Math.PI / 2, 'center'),
    txt('%', 34, 1287, 25, {}, Math.PI / 2, 'center'),
    txt('October 1989', 124, 1443.5, 31),
    txt('Universal Time', 1001, 1443.5, 31, {}, 0, 'center'),
  ];
  LEGEND_ITEMS.forEach((it) => {
    graphic.push({
      type: 'line', silent: true,
      shape: { x1: 1889, y1: it.lineY, x2: 1911, y2: it.lineY },
      style: { stroke: it.color, lineWidth: 2 },
    });
  });
  LEGEND_ITEMS.forEach((it) => graphic.push(txt(it.label, it.tx, it.ty, 21)));

  return {
    animation: false,
    backgroundColor: '#ffffff',
    textStyle: { fontFamily: FONT },
    grid, xAxis, yAxis, series, graphic,
  };
}

export default function App() {
  const ref = useRef<HTMLDivElement>(null);
  useEffect(() => {
    if (!ref.current) return;
    const chart = echarts.init(ref.current, null, { renderer: 'svg' });
    chart.setOption(buildOption() as any);
    return () => chart.dispose();
  }, []);
  return (
    <div
      ref={ref}
      style={{ position: 'absolute', left: 0, top: 0, width: 1974, height: 1462, background: '#fff' }}
    />
  );
}
